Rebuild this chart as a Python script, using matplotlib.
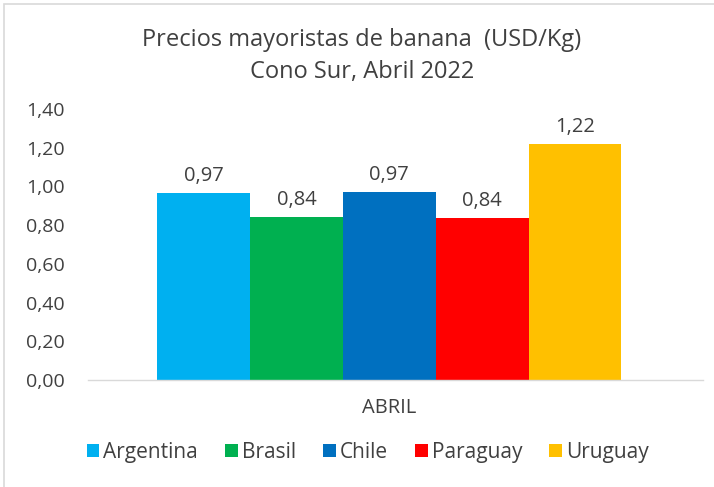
import matplotlib
matplotlib.use("Agg")
import matplotlib.pyplot as plt
from matplotlib.patches import Rectangle

categories = ["ABRIL"]
countries = ["Argentina", "Brasil", "Chile", "Paraguay", "Uruguay"]
values = [0.966, 0.844, 0.972, 0.836, 1.22]
colors = ["#00B0F0", "#00B050", "#0070C0", "#FF0000", "#FFC000"]
yticks = [0.0, 0.2, 0.4, 0.6, 0.8, 1.0, 1.2, 1.4]

plt.rcParams['font.family'] = ['Open Sans', 'DejaVu Sans']
txt = "#404040"

fig = plt.figure(figsize=(7.14, 4.87), dpi=100)
ax = fig.add_axes([0.1232, 0.2197, 0.8613, 0.5565])

w = 0.151
n = len(countries)
for i, (c, v, col) in enumerate(zip(countries, values, colors)):
    x = 0 + (i - (n - 1) / 2) * w
    ax.bar(x, v, width=w, color=col, label=c, zorder=2)
    ax.text(x, v + 0.035, f"{v:.2f}".replace(".", ","), ha="center", va="bottom",
            fontsize=14.5, color=txt)

ax.set_xlim(-0.49, 0.51)
ax.set_ylim(0, 1.4)
ax.set_yticks(yticks)
ax.set_yticklabels([f"{t:.2f}".replace(".", ",") for t in yticks], fontsize=14, color=txt)
ax.set_xticks([0])
ax.set_xticklabels(categories, fontsize=14.5, color=txt)
ax.tick_params(axis="both", length=0)
ax.tick_params(axis="x", pad=13)
ax.tick_params(axis="y", pad=17)
for s in ["top", "right", "left"]:
    ax.spines[s].set_visible(False)
ax.spines["bottom"].set_color("#D9D9D9")
ax.spines["bottom"].set_linewidth(1)

fig.text(0.507, 0.917, "Precios mayoristas de banana  (USD/Kg)", ha="center", va="center",
         fontsize=17, color=txt)
fig.text(0.507, 0.852, "Cono Sur, Abril 2022", ha="center", va="center",
         fontsize=17, color=txt)

leg = fig.legend(loc="center", bbox_to_anchor=(0.515, 0.071), ncol=5, frameon=False,
                 fontsize=15, handlelength=0.6, handleheight=0.6, handletextpad=0.2,
                 columnspacing=1.3, labelcolor=txt)

fig.patches.append(Rectangle((0.006, -0.05), 1.2, 1.042, transform=fig.transFigure,
                             fill=False, edgecolor="#D9D9D9", linewidth=1.2))

fig.savefig("out.png", dpi=100)
